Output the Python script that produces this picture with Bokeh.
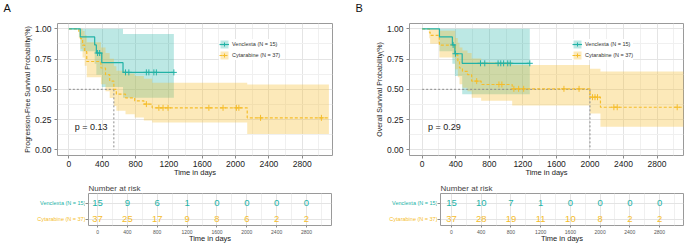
from bokeh.plotting import figure
from bokeh.models import Range1d, FixedTicker, NumeralTickFormatter, Label, Legend, LegendItem
from bokeh.layouts import row, column
from bokeh.embed import file_html
from bokeh.resources import INLINE
from bokeh.core.properties import value

FONT = "Liberation Sans"
TEAL = "#22B2A6"
GOLD = "#F5BD2B"
LABEL_VEN = "Venclexta (N = 15)"
LABEL_CYT = "Cytarabine (N = 37)"
panel_tags = ["A", "B"]

x_ticks = [0, 400, 800, 1200, 1600, 2000, 2400, 2800]
x_minor = [200, 600, 1000, 1400, 1800, 2200, 2600, 3000]
y_ticks = [0.0, 0.25, 0.5, 0.75, 1.0]
y_minor = [0.125, 0.375, 0.625, 0.875]

# ---------------- Panel A : progression-free survival ----------------
a_ven_t = [0, 137, 310, 330, 395, 650, 1260]
a_ven_s = [1.0, 0.933, 0.867, 0.800, 0.720, 0.640, 0.640]
a_ven_lo = [1.0, 0.815, 0.711, 0.621, 0.519, 0.430, 0.430]
a_ven_hi = [1.0, 1.0, 1.0, 1.0, 1.0, 0.958, 0.958]
a_ven_cens_t = [345, 370, 680, 720, 930, 960, 1020, 1050, 1260]
a_ven_cens_s = [0.800, 0.800, 0.640, 0.640, 0.640, 0.640, 0.640, 0.640, 0.640]

a_cyt_t = [0, 120, 140, 165, 190, 215, 385, 440, 490, 540, 570, 680, 790, 900, 1000, 2140, 3120]
a_cyt_s = [1.0, 0.973, 0.919, 0.865, 0.811, 0.730, 0.676, 0.622, 0.568, 0.500, 0.460, 0.430, 0.405, 0.378, 0.347, 0.264, 0.264]
a_cyt_hi = [1.0, 1.0, 1.0, 0.983, 0.947, 0.888, 0.845, 0.800, 0.753, 0.690, 0.654, 0.630, 0.610, 0.588, 0.555, 0.540, 0.540]
a_cyt_lo = [1.0, 0.922, 0.835, 0.762, 0.694, 0.600, 0.541, 0.484, 0.429, 0.363, 0.323, 0.293, 0.268, 0.243, 0.225, 0.130, 0.130]
a_cyt_cens_t = [930, 1080, 1130, 1190, 1680, 1850, 2010, 2040, 2300, 3030]
a_cyt_cens_s = [0.378, 0.347, 0.347, 0.347, 0.347, 0.347, 0.347, 0.347, 0.264, 0.264]
a_median = 540
a_pval = "p = 0.13"
a_ylabel = "Progression-Free Survival Probability(%)"

# ---------------- Panel B : overall survival ----------------
b_ven_t = [0, 206, 360, 390, 477, 1283]
b_ven_s = [1.0, 0.933, 0.867, 0.794, 0.715, 0.715]
b_ven_lo = [1.0, 0.815, 0.711, 0.610, 0.460, 0.460]
b_ven_hi = [1.0, 1.0, 1.0, 1.0, 1.0, 1.0]
b_ven_cens_t = [369, 397, 695, 746, 905, 937, 971, 1020, 1050, 1283]
b_ven_cens_s = [0.867, 0.794, 0.715, 0.715, 0.715, 0.715, 0.715, 0.715, 0.715, 0.715]

b_cyt_t = [0, 85, 95, 205, 395, 425, 445, 480, 540, 590, 703, 1073, 2000, 2125, 3120]
b_cyt_s = [1.0, 0.973, 0.946, 0.865, 0.784, 0.730, 0.676, 0.649, 0.622, 0.568, 0.540, 0.504, 0.435, 0.352, 0.352]
b_cyt_hi = [1.0, 1.0, 1.0, 0.985, 0.925, 0.885, 0.845, 0.820, 0.800, 0.755, 0.725, 0.700, 0.670, 0.647, 0.647]
b_cyt_lo = [1.0, 0.922, 0.876, 0.762, 0.665, 0.600, 0.541, 0.512, 0.484, 0.430, 0.405, 0.366, 0.300, 0.190, 0.190]
b_cyt_cens_t = [650, 915, 950, 1093, 1150, 1210, 1690, 1870, 2030, 2060, 2090, 2285, 2325, 3040]
b_cyt_cens_s = [0.568, 0.540, 0.540, 0.504, 0.504, 0.504, 0.504, 0.504, 0.435, 0.435, 0.435, 0.352, 0.352, 0.352]
b_median = 2000
b_pval = "p = 0.29"
b_ylabel = "Overall Survival Probability(%)"

# ---------------- Number at risk ----------------
risk_t = [0, 400, 800, 1200, 1600, 2000, 2400, 2800]
a_ven_n = [15, 9, 6, 1, 0, 0, 0, 0]
a_cyt_n = [37, 25, 17, 9, 8, 6, 2, 2]
b_ven_n = [15, 10, 7, 1, 0, 0, 0, 0]
b_cyt_n = [37, 28, 19, 11, 10, 8, 2, 2]
row_labels = [LABEL_VEN, LABEL_CYT]
row_pos = [2, 1]
row_colors = [TEAL, GOLD]

# ---------------- layout constants ----------------
STRIP_H = 12
MAIN_H = 168
MAIN_TOP = 11
FRAME_H = 132
TAB_H = 65
TAB_TOP = 13
TAB_BOTTOM = 18
TAB_YR = (0.62, 2.625)


def style_axes(p, tick_font, tick_color):
    for ax in (p.xaxis[0], p.yaxis[0]):
        ax.axis_line_color = None
        ax.major_tick_line_color = "#8a8a8a"
        ax.major_tick_in = 0
        ax.major_tick_out = 3
        ax.minor_tick_line_color = None
        ax.major_label_text_font = FONT
        ax.major_label_text_font_size = tick_font
        ax.major_label_text_color = tick_color
        ax.major_label_standoff = 2
        ax.axis_label_text_font = FONT
        ax.axis_label_text_font_style = "normal"
        ax.axis_label_text_color = "#1a1a1a"
    p.outline_line_color = "#9a9a9a"
    p.outline_line_width = 1
    p.xgrid.grid_line_color = "#e4e4e4"
    p.ygrid.grid_line_color = "#e4e4e4"
    p.xgrid.minor_grid_line_color = "#f0f0f0"
    p.ygrid.minor_grid_line_color = "#f0f0f0"


def tag_strip():
    p = figure(width=685, height=STRIP_H, x_range=Range1d(0, 685), y_range=Range1d(0, STRIP_H),
               output_backend="svg", toolbar_location=None,
               x_axis_location=None, y_axis_location=None,
               min_border_left=0, min_border_right=0, min_border_top=0, min_border_bottom=0)
    p.outline_line_color = None
    p.grid.visible = False
    p.text(x=[3, 355], y=[5, 5], text=panel_tags, text_font=value(FONT), text_font_size="11px",
           text_baseline="middle", text_align="left", text_color="#111111")
    return p


def km_panel(width, left, right, xr, ven, cyt, median, pval, ylabel, legend_x):
    p = figure(width=width, height=MAIN_H, x_range=Range1d(*xr), y_range=Range1d(-0.047, 1.044),
               output_backend="svg", toolbar_location=None,
               min_border_left=left, min_border_right=right,
               min_border_top=MAIN_TOP, min_border_bottom=MAIN_H - MAIN_TOP - FRAME_H)
    p.xaxis.ticker = FixedTicker(ticks=x_ticks, minor_ticks=x_minor)
    p.yaxis.ticker = FixedTicker(ticks=y_ticks, minor_ticks=y_minor)
    p.yaxis.formatter = NumeralTickFormatter(format="0.00")
    style_axes(p, "8.5px", "#222222")
    p.xaxis.major_label_standoff = 1
    p.xaxis.axis_label = "Time in days"
    p.xaxis.axis_label_text_font_size = "7.5px"
    p.xaxis.axis_label_standoff = -2
    p.yaxis.axis_label = ylabel
    p.yaxis.axis_label_text_font_size = "7px"
    p.yaxis.axis_label_standoff = 1

    vt, vs, vlo, vhi, vct, vcs = ven
    ct, cs, clo, chi, cct, ccs = cyt
    band_v = p.varea_step(x=vt, y1=vlo, y2=vhi, step_mode="after", fill_color=TEAL, fill_alpha=0.3)
    band_c = p.varea_step(x=ct, y1=clo, y2=chi, step_mode="after", fill_color=GOLD, fill_alpha=0.33)

    p.line(x=[0, median], y=[0.5, 0.5], line_color="#8c8c8c", line_dash="2 2", line_width=1)
    p.line(x=[median, median], y=[0.5, 0.0], line_color="#8c8c8c", line_dash="2 2", line_width=1)

    line_c = p.step(x=ct, y=cs, mode="after", line_color=GOLD, line_width=1.2, line_dash="3 2")
    line_v = p.step(x=vt, y=vs, mode="after", line_color=TEAL, line_width=1.2)
    cr_c = p.scatter(x=cct, y=ccs, marker="cross", size=6, line_color=GOLD, line_width=1)
    cr_v = p.scatter(x=vct, y=vcs, marker="cross", size=6, line_color=TEAL, line_width=1)

    p.add_layout(Label(x=70, y=0.19, text=pval, text_font=FONT, text_font_size="9px",
                       text_baseline="middle", text_color="#1a1a1a"))

    legend = Legend(items=[LegendItem(label=LABEL_VEN, renderers=[band_v, line_v, cr_v]),
                           LegendItem(label=LABEL_CYT, renderers=[band_c, line_c, cr_c])],
                    location=(legend_x, 95), margin=0, padding=2, spacing=1,
                    glyph_width=10, glyph_height=10, label_height=10, label_standoff=3,
                    label_text_font=FONT, label_text_font_size="5.5px", label_text_color="#333333",
                    background_fill_color="white", background_fill_alpha=1.0, border_line_color=None)
    p.add_layout(legend)
    return p


def risk_labels(width):
    p = figure(width=width, height=TAB_H, x_range=Range1d(0, 1), y_range=Range1d(*TAB_YR),
               output_backend="svg", toolbar_location=None,
               x_axis_location=None, y_axis_location=None,
               min_border_left=0, min_border_right=0,
               min_border_top=TAB_TOP, min_border_bottom=TAB_BOTTOM)
    p.outline_line_color = None
    p.grid.visible = False
    p.text(x=[1, 1], y=row_pos, text=row_labels, text_color=row_colors, text_align="right",
           text_baseline="middle", text_font_size="5.5px", text_font=value(FONT))
    return p


def risk_table(width, left, right, xr, ven_n, cyt_n):
    p = figure(width=width, height=TAB_H, x_range=Range1d(*xr), y_range=Range1d(*TAB_YR),
               output_backend="svg", toolbar_location=None,
               min_border_left=left, min_border_right=right,
               min_border_top=TAB_TOP, min_border_bottom=TAB_BOTTOM)
    p.title.text = "Number at risk"
    p.title.text_font = FONT
    p.title.text_font_size = "8px"
    p.title.text_font_style = "normal"
    p.title.align = "left"
    p.title.standoff = 1
    p.title.offset = 0
    p.xaxis.ticker = FixedTicker(ticks=x_ticks, minor_ticks=x_minor)
    p.yaxis.ticker = FixedTicker(ticks=row_pos)
    style_axes(p, "5px", "#555555")
    p.xaxis.major_tick_out = 2
    p.yaxis.major_tick_out = 3
    p.xaxis.major_label_standoff = 0
    p.yaxis.major_label_standoff = 0
    p.yaxis.major_label_text_font_size = "0px"
    p.yaxis.major_label_text_alpha = 0
    p.xaxis.axis_label = "Time in days"
    p.xaxis.axis_label_text_font_size = "7.5px"
    p.xaxis.axis_label_standoff = -3
    p.ygrid.minor_grid_line_color = None

    p.text(x=risk_t, y=[row_pos[0]] * len(risk_t), text=[str(v) for v in ven_n], text_color=TEAL,
           text_align="center", text_baseline="middle", text_font_size="9.5px", text_font=value(FONT))
    p.text(x=risk_t, y=[row_pos[1]] * len(risk_t), text=[str(v) for v in cyt_n], text_color=GOLD,
           text_align="center", text_baseline="middle", text_font_size="9.5px", text_font=value(FONT))
    return p


strip = tag_strip()
pA = km_panel(357, 57, 25, (-136, 3163),
              (a_ven_t, a_ven_s, a_ven_lo, a_ven_hi, a_ven_cens_t, a_ven_cens_s),
              (a_cyt_t, a_cyt_s, a_cyt_lo, a_cyt_hi, a_cyt_cens_t, a_cyt_cens_s),
              a_median, a_pval, a_ylabel, 162)
pB = km_panel(328, 52, 2, (-151, 3115),
              (b_ven_t, b_ven_s, b_ven_lo, b_ven_hi, b_ven_cens_t, b_ven_cens_s),
              (b_cyt_t, b_cyt_s, b_cyt_lo, b_cyt_hi, b_cyt_cens_t, b_cyt_cens_s),
              b_median, b_pval, b_ylabel, 163)
lA = risk_labels(85)
tA = risk_table(272, 3, 26, (-121, 3135), a_ven_n, a_cyt_n)
lB = risk_labels(80)
tB = risk_table(248, 3, 2, (-148, 3122), b_ven_n, b_cyt_n)

page = column(strip, row(pA, pB), row(lA, tA, lB, tB))
open("out.html", "w").write(file_html(page, INLINE))
